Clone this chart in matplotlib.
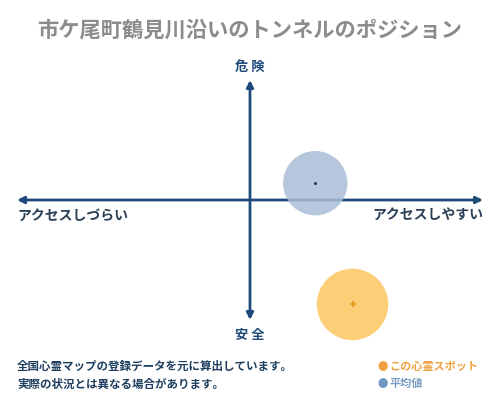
import numpy as np
import matplotlib.pyplot as plt

plt.rcParams['font.family'] = ['Noto Sans CJK JP', 'DejaVu Sans']

# データ (横: アクセス, 縦: 危険度, -1..1)
names = ['この心霊スポット', '平均値']
acc_x = [0.44, 0.28]
risk_y = [-0.87, 0.14]
sizes = [2650, 2150]
fill_cols = ['#fcc661', '#a9bed8']
dot_cols = ['#f0a020', '#1f3f66']

title = '市ケ尾町鶴見川沿いのトンネルのポジション'
navy = '#1d4a78'

fig = plt.figure(figsize=(5, 4), dpi=100)
ax = fig.add_axes([0.034, 0.2, 0.932, 0.6])
ax.set_xlim(-1, 1)
ax.set_ylim(-1, 1)
ax.axis('off')

# 軸の矢印
arr = dict(arrowstyle='-|>', color=navy, lw=2, mutation_scale=10, shrinkA=0, shrinkB=0)
ax.annotate('', xy=(1, 0), xytext=(0, 0), arrowprops=arr)
ax.annotate('', xy=(-1, 0), xytext=(0, 0), arrowprops=arr)
ax.annotate('', xy=(0, 1), xytext=(0, 0), arrowprops=arr)
ax.annotate('', xy=(0, -1), xytext=(0, 0), arrowprops=arr)

# 円
for i in range(len(names)):
    ax.scatter(acc_x[i], risk_y[i], s=sizes[i], color=fill_cols[i], alpha=0.85,
               edgecolors='none', zorder=3, clip_on=False)
ax.scatter(acc_x[1], risk_y[1], s=1.5, color=dot_cols[1], zorder=4, clip_on=False)
ax.scatter(acc_x[0], risk_y[0], s=14, marker='+', color=dot_cols[0], zorder=4,
           clip_on=False)

# ラベル
fig.text(0.5, 0.925, title, ha='center', va='center', fontsize=15.3,
         color='#8c8c8c', fontweight='bold')
fig.text(0.5, 0.832, '危 険', ha='center', va='center', fontsize=9.5,
         color=navy, fontweight='bold')
fig.text(0.5, 0.162, '安 全', ha='center', va='center', fontsize=9.5,
         color=navy, fontweight='bold')
fig.text(0.034, 0.46, 'アクセスしづらい', ha='left', va='center', fontsize=10,
         color='#2a3f55', fontweight='bold')
fig.text(0.966, 0.46, 'アクセスしやすい', ha='right', va='center', fontsize=10,
         color='#2a3f55', fontweight='bold')

# 注記
fig.text(0.034, 0.083, '全国心霊マップの登録データを元に算出しています。', ha='left',
         va='center', fontsize=8.3, color='#1f3f5f', fontweight='bold')
fig.text(0.034, 0.04, '実際の状況とは異なる場合があります。', ha='left',
         va='center', fontsize=8.3, color='#1f3f5f', fontweight='bold')

# 凡例
leg_txt = ['#f0a040', '#7a9cc0']
leg_dot = ['#f0a040', '#6f98c0']
for i, yy in enumerate([0.083, 0.04]):
    fig.text(0.755, yy, '●', ha='left', va='center', fontsize=7.5, color=leg_dot[i])
    fig.text(0.779, yy, names[i], ha='left', va='center', fontsize=8,
             color=leg_txt[i], fontweight='bold')

fig.savefig('out.png', dpi=100)
